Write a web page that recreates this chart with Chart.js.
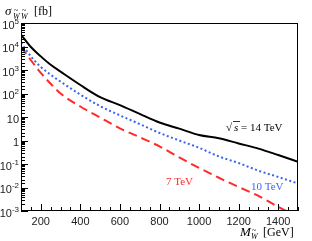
<!DOCTYPE html>
<html><head><meta charset="utf-8">
<script src="https://cdn.jsdelivr.net/npm/chart.js@4.4.0/dist/chart.umd.min.js"></script>
<style>html,body{margin:0;padding:0;background:#fff;}canvas{display:block;}</style>
</head><body>
<canvas id="c" width="312" height="241" style="width:312px;height:241px"></canvas>
<script>
const masses  = [100,150,200,250,300,400,500,600,700,800,900,1000,1100,1200,1300,1400,1500];
const sigma14 = [3.2e4,9.5e3,3.8e3,1.66e3,850,230,70,32,13.5,5.8,3.2,1.7,1.25,0.75,0.45,0.24,0.125];
const sigma10 = [1.45e4,3.8e3,1.35e3,630,320,90,29,11.7,5.0,2.1,1.0,0.49,0.21,0.11,0.052,0.028,0.0148];
const sigma7  = [1.0e4,2.6e3,760,260,100,28,9.5,3.3,1.38,0.56,0.19,0.068,0.026,0.0105,0.0044,0.0015,0.00055];
const decadeExponents = [-3,-2,-1,0,1,2,3,4,5];
const decadeLabels = {'5':['10','5'],'4':['10','4'],'3':['10','3'],'2':['10','2'],'1':['10',''],'0':['1',''],'-1':['10','-1'],'-2':['10','-2'],'-3':['10','-3']};
const xTickLabels = [200,400,600,800,1000,1200,1400];

const pts = arr => masses.map((m,i)=>({x:m,y:arr[i]}));
const isDecade = v => Math.abs(Math.log10(v) - Math.round(Math.log10(v))) < 1e-6;

const framePlugin = {
  id:'frame',
  afterDraw(chart){
    const {ctx, chartArea:a, scales:{x,y}} = chart;
    ctx.save();
    ctx.strokeStyle='#000'; ctx.lineWidth=1;
    ctx.strokeRect(a.left+0.5, a.top+0.5, a.right-a.left-1, a.bottom-a.top-1);
    ctx.beginPath();
    y.ticks.forEach(t=>{
      const p = Math.round(y.getPixelForValue(t.value))+0.5;
      const len = isDecade(t.value)?7:4;
      ctx.moveTo(a.left, p); ctx.lineTo(a.left+len, p);
    });
    x.ticks.forEach(t=>{
      const p = Math.round(x.getPixelForValue(t.value))+0.5;
      const len = (t.value%200===0)?7:4;
      ctx.moveTo(p, a.bottom); ctx.lineTo(p, a.bottom-len);
    });
    ctx.stroke();
    // y tick labels with superscripts
    const sans = '"Liberation Sans","DejaVu Sans",sans-serif';
    ctx.fillStyle='#222';
    ctx.textAlign='left'; ctx.textBaseline='alphabetic';
    decadeExponents.forEach(n=>{
      const p = y.getPixelForValue(Math.pow(10,n));
      const [base,sup] = decadeLabels[String(n)];
      ctx.font='11px '+sans; const wb = ctx.measureText(base).width;
      ctx.font='8px '+sans; const ws = sup? ctx.measureText(sup).width : 0;
      const x0 = 19 - wb - ws;
      ctx.font='11px '+sans; ctx.fillText(base, x0, p+5.5);
      if (sup){ ctx.font='8px '+sans; ctx.fillText(sup, x0+wb, p+0.5); }
    });
    // text
    ctx.fillStyle='#000';
    const serif = '"Liberation Serif","DejaVu Serif",serif';
    // y title
    ctx.font='italic 13px '+serif; ctx.fillText('σ',5,15);
    ctx.font='italic 8px '+serif;
    ctx.fillText('W',13,19); ctx.fillText('W',21,19);
    ctx.font='8px '+serif; ctx.fillText('~',14,13); ctx.fillText('~',22,13);
    ctx.font='12px '+serif; ctx.fillText('[fb]',34,15);
    // x title
    ctx.font='italic 13px '+serif; ctx.fillText('M',240,236);
    ctx.font='italic 8px '+serif; ctx.fillText('W',251,239);
    ctx.font='8px '+serif; ctx.fillText('~',252,233);
    ctx.font='12px '+serif; ctx.fillText('[GeV]',263,236);
    // series labels
    ctx.font='11px '+serif; ctx.fillText('√',226,131);
    ctx.beginPath(); ctx.moveTo(233,121.5); ctx.lineTo(240,121.5); ctx.lineWidth=0.8; ctx.stroke();
    ctx.font='italic 11px '+serif; ctx.fillText('s',234,131);
    ctx.font='11px '+serif; ctx.fillText('= 14 TeV',241,131);
    ctx.fillStyle='#3a64f0'; ctx.fillText('10 TeV',251,190);
    ctx.fillStyle='#ff2a2a'; ctx.fillText('7 TeV',166,185);
    ctx.restore();
  }
};

new Chart(document.getElementById('c'), {
  type:'line',
  data:{datasets:[
    {data:pts(sigma14), borderColor:'#000', borderWidth:2, pointRadius:0, cubicInterpolationMode:'monotone', fill:false},
    {data:pts(sigma10), borderColor:'#3a64f0', borderWidth:2, borderDash:[2,2.5], pointRadius:0, cubicInterpolationMode:'monotone', fill:false},
    {data:pts(sigma7), borderColor:'#ff2a2a', borderWidth:2, borderDash:[9,5], pointRadius:0, cubicInterpolationMode:'monotone', fill:false}
  ]},
  options:{
    responsive:false, animation:false, devicePixelRatio:1,
    layout:{padding:{top:23,right:14,left:0,bottom:0}},
    plugins:{legend:{display:false},tooltip:{enabled:false}},
    scales:{
      x:{type:'linear', min:100, max:1500,
        grid:{display:false, drawTicks:false}, border:{display:false},
        ticks:{stepSize:50, autoSkip:false, maxRotation:0, padding:4, color:'#222',
          font:{family:'"Liberation Sans","DejaVu Sans",sans-serif', size:11},
          callback:v=> xTickLabels.includes(v)? String(v):''},
        afterFit:s=>{s.height=30;}},
      y:{type:'logarithmic', min:1e-3, max:1e5,
        grid:{display:false, drawTicks:false}, border:{display:false},
        ticks:{autoSkip:false, padding:2, callback:()=>''},
        afterFit:s=>{s.width=21;}}
    }
  },
  plugins:[framePlugin]
});
</script>
</body></html>
